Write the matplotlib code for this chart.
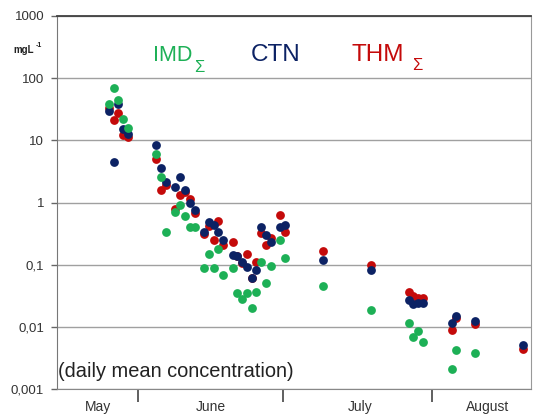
import matplotlib
matplotlib.use("Agg")
import matplotlib.pyplot as plt
import numpy as np

plt.rcParams["font.family"] = ["Liberation Sans", "DejaVu Sans"]

# days counted from 1 June; daily mean concentrations in mg/L
days = [-6, -5, -4, -3, -2, 4, 5, 6, 8, 9, 10, 11, 12,
        14, 15, 16, 17, 18, 20, 21, 22, 23, 24, 25, 26, 27, 28,
        30, 31, 39, 49, 57, 58, 59, 60, 66, 67, 71, 81]

imd = [39, 70, 45, 22, 16, 6.1, 2.6, 0.33, 0.7, 0.9, 0.6, 0.4, 0.4,
       0.087, 0.15, 0.087, 0.176, 0.067, 0.087, 0.035, 0.028, 0.035, 0.02, 0.037, 0.11, 0.05, 0.094,
       0.25, 0.126, 0.045, 0.019, 0.0114, 0.0068, 0.0085, 0.0057, 0.0021, 0.0042, 0.0038, np.nan]

ctn = [30, 4.4, 39, 15.4, 12.8, 8.5, 3.65, 2.1, 1.8, 2.6, 1.6, 1.0, 0.77,
       0.34, 0.48, 0.43, 0.33, 0.245, 0.145, 0.14, 0.11, 0.091, 0.06, 0.081, 0.41, 0.3, 0.235,
       0.4, 0.44, 0.117, 0.081, 0.0267, 0.023, 0.024, 0.024, 0.0114, 0.0148, 0.0123, 0.0051]

thm = [33, 21, 28, 12, 11.5, 5.1, 1.6, 1.9, 0.8, 1.3, 1.5, 1.15, 0.67,
       0.31, 0.42, 0.245, 0.5, 0.21, 0.23, 0.14, 0.105, 0.146, 0.062, 0.11, 0.32, 0.21, 0.27,
       0.64, 0.34, 0.164, 0.1, 0.036, 0.031, 0.029, 0.029, 0.0088, 0.014, 0.011, 0.0044]

y_ticks = [0.001, 0.01, 0.1, 1, 10, 100, 1000]
y_labels = ["0,001", "0,01", "0,1", "1", "10", "100", "1000"]
months = ["May", "June", "July", "August"]
month_edges = [0.1, 30.6, 61.9]
month_mids = [-8.2, 15.5, 46.8, 73.5]

GREEN = "#1db056"
NAVY = "#0c2264"
RED = "#c40a0a"

W, H = 533, 416
fig = plt.figure(figsize=(W / 100, H / 100), dpi=100)
ax = fig.add_axes([57 / W, 27 / H, 474 / W, 373 / H])

ax.set_yscale("log")
ax.set_ylim(0.001, 1000)
ax.set_xlim(-16.9, 82.7)

ax.scatter(days, thm, s=40, color=RED, linewidths=0, zorder=3)
ax.scatter(days, ctn, s=40, color=NAVY, linewidths=0, zorder=4)
ax.scatter(days, imd, s=40, color=GREEN, linewidths=0, zorder=5)

ax.set_yticks(y_ticks)
ax.set_yticklabels(y_labels)
ax.yaxis.set_minor_locator(matplotlib.ticker.NullLocator())
ax.tick_params(axis="y", length=4.3, width=1, color="#666666", pad=5,
               labelsize=9.5, labelcolor="#333333")
ax.grid(axis="y", color="#a0a0a0", linewidth=1.0, zorder=1)

ax.set_xticks(month_edges)
ax.set_xticklabels([])
ax.set_xticks(month_mids, minor=True)
ax.set_xticklabels(months, minor=True)
ax.tick_params(axis="x", which="major", length=9.4, width=1.2, color="#444444")
ax.tick_params(axis="x", which="minor", length=0, pad=8, labelsize=10, labelcolor="#333333")

ax.spines["top"].set_color("#404040")
ax.spines["top"].set_linewidth(1.3)
ax.spines["left"].set_color("#777777")
ax.spines["right"].set_color("#999999")
ax.spines["bottom"].set_color("#888888")

# unit label above the axis
fig.text(13 / W, 1 - 53 / H, "mgL", fontsize=7, fontweight="bold", color="#222222", va="baseline")
fig.text(36 / W, 1 - 47 / H, "-1", fontsize=5, fontweight="bold", color="#222222", va="baseline")

# series names in place of a legend box
fig.text(153 / W, 1 - 61 / H, "IMD", fontsize=15.5, color=GREEN, va="baseline")
fig.text(194 / W, 1 - 72 / H, "Σ", fontsize=12, color=GREEN, va="baseline")
fig.text(251 / W, 1 - 61 / H, "CTN", fontsize=17.5, color=NAVY, va="baseline")
fig.text(351 / W, 1 - 61 / H, "THM", fontsize=17.5, color=RED, va="baseline")
fig.text(412 / W, 1 - 70 / H, "Σ", fontsize=12, color=RED, va="baseline")

ax.text(58 / W, 1 - 377 / H, "(daily mean concentration)", transform=fig.transFigure,
        fontsize=14.4, color="#222222", va="baseline")

fig.savefig("out.png", dpi=100)
